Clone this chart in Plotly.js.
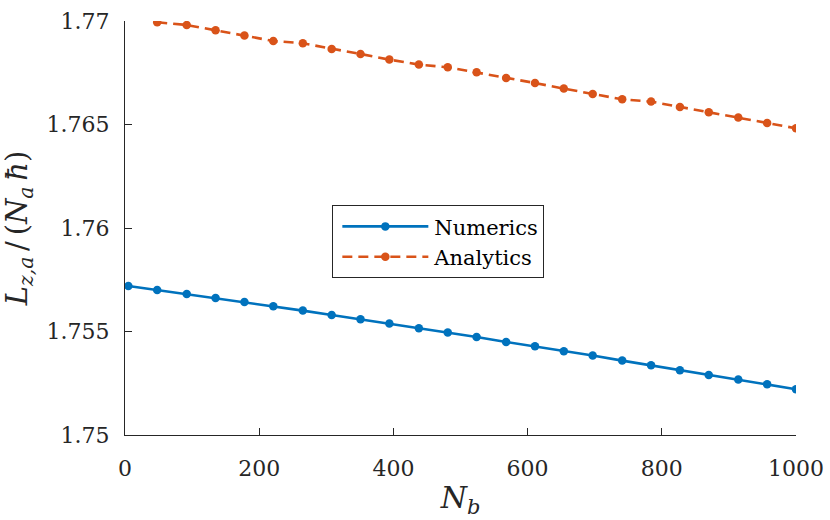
<!DOCTYPE html>
<html>
<head>
<meta charset="utf-8">
<script src="https://cdn.plot.ly/plotly-3.0.1.min.js"></script>
<style>html,body{margin:0;padding:0;background:#fff;}#chart{width:830px;height:520px;}</style>
</head>
<body>
<div id="chart"></div>
<script>
const numericsX = [5, 48, 92, 135, 178, 221, 265, 308, 351, 394, 438, 481, 524, 568, 611, 654, 697, 741, 784, 827, 870, 914, 957, 1000];
const numericsY = [1.757198, 1.757005, 1.756812, 1.756618, 1.756425, 1.756217, 1.756010, 1.755797, 1.755589, 1.755382, 1.755155, 1.754947,
                   1.754734, 1.754493, 1.754285, 1.754043, 1.753836, 1.753594, 1.753367, 1.753126, 1.752899, 1.752676, 1.752449, 1.752208];
const analyticsX = [48, 92, 135, 178, 221, 265, 308, 351, 394, 438, 481, 524, 568, 611, 654, 697, 741, 784, 827, 870, 914, 957, 1000];
const analyticsY = [1.769937, 1.769807, 1.769551, 1.769295, 1.769034, 1.768923, 1.768647, 1.768406, 1.768135, 1.767894, 1.767763, 1.767522,
                    1.767246, 1.767005, 1.766734, 1.766473, 1.766217, 1.766106, 1.765845, 1.765589, 1.765333, 1.765072, 1.764816];
const xTickVals = [0, 200, 400, 600, 800, 1000];
const xTickText = ['0', '200', '400', '600', '800', '1000'];
const yTickVals = [1.75, 1.755, 1.76, 1.765, 1.77];
const yTickText = ['1.75', '1.755', '1.76', '1.765', '1.77'];

const FONT = 'DejaVu Serif';
const AX = '#262626';

const traces = [
  {x: numericsX, y: numericsY, name: 'Numerics', type: 'scatter', mode: 'lines+markers',
   line: {color: '#0072BD', width: 2.6}, marker: {color: '#0072BD', size: 8.5}},
  {x: analyticsX, y: analyticsY, name: 'Analytics', type: 'scatter', mode: 'lines+markers',
   line: {color: '#D95319', width: 2.6, dash: '10px,6px'}, marker: {color: '#D95319', size: 8.5}}
];

const layout = {
  width: 830, height: 520,
  margin: {l: 125, r: 34, t: 21, b: 85},
  paper_bgcolor: '#fff', plot_bgcolor: '#fff',
  font: {family: FONT, size: 22, color: AX},
  showlegend: true,
  legend: {x: 0.309, y: 0.555, xanchor: 'left', yanchor: 'top',
           bgcolor: '#fff', bordercolor: AX, borderwidth: 1,
           font: {family: FONT, size: 21, color: '#000'}, itemwidth: 91},
  xaxis: {range: [0, 1000], tickvals: xTickVals, ticktext: xTickText,
          showline: true, linecolor: AX, linewidth: 1, mirror: false,
          ticks: 'inside', ticklen: 7, tickwidth: 1, tickcolor: AX,
          showgrid: false, zeroline: false, ticklabelstandoff: 14,
          tickfont: {family: FONT, size: 22, color: AX},
          title: {text: '<i>N<sub>b</sub></i>', font: {family: FONT, size: 30, color: AX}, standoff: 6}},
  yaxis: {range: [1.75, 1.77], tickvals: yTickVals, ticktext: yTickText,
          showline: true, linecolor: AX, linewidth: 1, mirror: false,
          ticks: 'inside', ticklen: 7, tickwidth: 1, tickcolor: AX,
          showgrid: false, zeroline: false, ticklabelstandoff: 10,
          tickfont: {family: FONT, size: 22, color: AX},
          title: {text: '<i>L<sub>z,a</sub></i>\u2009/\u2009(<i>N<sub>a</sub>\u2009ħ</i>)', font: {family: FONT, size: 29, color: AX}, standoff: 10}}
};

Plotly.newPlot('chart', traces, layout, {displayModeBar: false, staticPlot: true}).then(function (gd) {
  // lengthen the legend line samples to match the reference's legend style
  gd.querySelectorAll('.legend .traces').forEach(function (g) {
    g.querySelectorAll('.legendlines path').forEach(function (p) { p.setAttribute('d', 'M9,0h86'); });
    g.querySelectorAll('.legendpoints path').forEach(function (p) { p.setAttribute('transform', 'translate(52,0)'); });
  });
});
</script>
</body>
</html>
